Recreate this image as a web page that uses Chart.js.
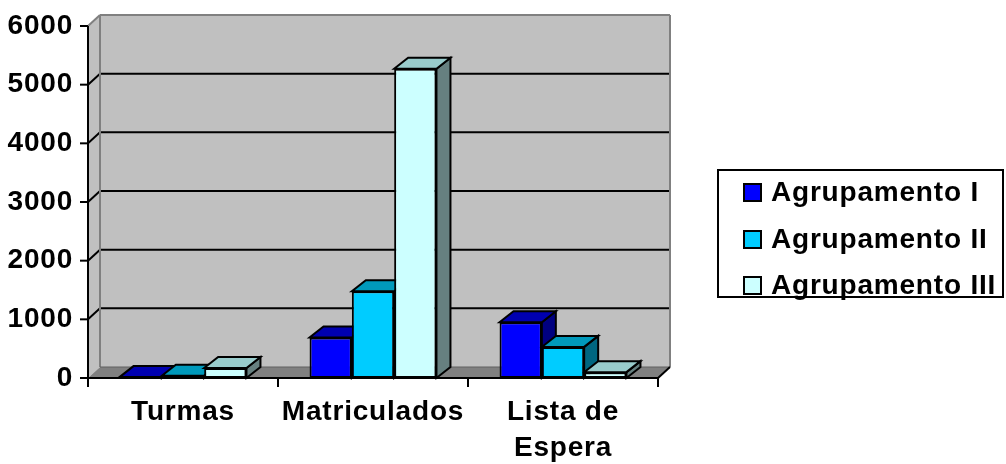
<!DOCTYPE html>
<html>
<head>
<meta charset="utf-8">
<script src="https://cdn.jsdelivr.net/npm/chart.js@4.4.0/dist/chart.umd.min.js"></script>
<style>
html,body{margin:0;padding:0;background:#fff;}
#wrap{position:relative;width:1006px;height:464px;}
</style>
</head>
<body>
<div id="wrap"><canvas id="c"></canvas></div>
<script>
const categories = ['Turmas', 'Matriculados', ['Lista de', 'Espera']];
const seriesNames = ['Agrupamento I', 'Agrupamento II', 'Agrupamento III'];
const agrupamentoI = [15, 690, 950];
const agrupamentoII = [40, 1480, 530];
const agrupamentoIII = [170, 5270, 100];
const yTicks = [0, 1000, 2000, 3000, 4000, 5000, 6000];

const frontColors = ['#0000FF', '#00CCFF', '#CCFFFF'];
const topColors = ['#0000B0', '#0099BB', '#99CCCC'];
const sideColors = ['#000080', '#006680', '#668080'];

const FONT = {family: "'Liberation Sans', Arial, sans-serif", size: 28, weight: 'bold', lineHeight: 1.3};
const SPACING = '0.8px';
const WALL = {dx: 12, dy: 11};
const BAR = {dx: 14, dy: 11};

function poly(ctx, pts, fill, stroke, lw) {
  ctx.beginPath();
  ctx.moveTo(pts[0][0], pts[0][1]);
  for (let i = 1; i < pts.length; i++) ctx.lineTo(pts[i][0], pts[i][1]);
  ctx.closePath();
  if (fill) { ctx.fillStyle = fill; ctx.fill(); }
  if (stroke) { ctx.strokeStyle = stroke; ctx.lineWidth = lw || 2; ctx.stroke(); }
}
function line(ctx, x1, y1, x2, y2, color, lw) {
  ctx.beginPath();
  ctx.moveTo(x1, y1); ctx.lineTo(x2, y2);
  ctx.strokeStyle = color; ctx.lineWidth = lw || 2; ctx.stroke();
}

const threeD = {
  id: 'threeD',
  beforeUpdate(chart) { chart.ctx.letterSpacing = SPACING; },
  beforeDraw(chart) { chart.ctx.letterSpacing = SPACING; },
  beforeDatasetsDraw(chart) {
    const ctx = chart.ctx;
    const {left, right, top, bottom} = chart.chartArea;
    const y = chart.scales.y, x = chart.scales.x;
    const wdx = WALL.dx, wdy = WALL.dy;
    ctx.save();
    ctx.lineJoin = 'miter';
    // back wall
    poly(ctx, [[left + wdx, top - wdy], [right + wdx, top - wdy], [right + wdx, bottom - wdy], [left + wdx, bottom - wdy]], '#C0C0C0');
    // left wall
    poly(ctx, [[left, top], [left + wdx, top - wdy], [left + wdx, bottom - wdy], [left, bottom]], '#C0C0C0');
    // floor
    poly(ctx, [[left, bottom], [right, bottom], [right + wdx, bottom - wdy], [left + wdx, bottom - wdy]], '#808080');
    // gridlines
    yTicks.forEach(v => {
      if (v === 0 || v === yTicks[yTicks.length - 1]) return;
      const py = y.getPixelForValue(v);
      line(ctx, left, py, left + wdx, py - wdy, '#000', 2);
      line(ctx, left + wdx, py - wdy, right + wdx, py - wdy, '#000', 2);
    });
    // wall edges (gray)
    ctx.lineCap = 'butt';
    line(ctx, left, top, left + wdx, top - wdy, '#808080', 2);
    line(ctx, left + wdx, top - wdy, right + wdx, top - wdy, '#808080', 2);
    line(ctx, right + wdx, top - wdy, right + wdx, bottom - wdy, '#808080', 2);
    line(ctx, left + wdx, top - wdy, left + wdx, bottom - wdy, '#808080', 2);
    line(ctx, left + wdx, bottom - wdy, right + wdx, bottom - wdy, '#606060', 1);
    // axes (black)
    line(ctx, left, top, left, bottom + 1, '#000', 2);
    line(ctx, left - 1, bottom, right, bottom, '#000', 2);
    line(ctx, right, bottom, right + wdx, bottom - wdy, '#000', 2);
    // y tick marks
    yTicks.forEach(v => {
      const py = y.getPixelForValue(v);
      line(ctx, left - 8, py, left, py, '#000', 2);
    });
    // x tick marks at category boundaries
    const n = categories.length;
    for (let i = 0; i <= n; i++) {
      let px;
      if (i === 0) px = left; else if (i === n) px = right;
      else px = (x.getPixelForValue(i - 1) + x.getPixelForValue(i)) / 2;
      line(ctx, px, bottom, px, bottom + 9, '#000', 2);
    }
    // bar depth faces
    const bdx = BAR.dx, bdy = BAR.dy;
    chart.data.datasets.forEach((ds, di) => {
      const meta = chart.getDatasetMeta(di);
      meta.data.forEach(bar => {
        const w = bar.width;
        const l = bar.x - w / 2, r = bar.x + w / 2, t = bar.y, b = bar.base;
        poly(ctx, [[r, t], [r + bdx, t - bdy], [r + bdx, b - bdy], [r, b]], sideColors[di], '#000', 2);
        poly(ctx, [[l, t], [r, t], [r + bdx, t - bdy], [l + bdx, t - bdy]], topColors[di], '#000', 2);
      });
    });
    ctx.restore();
  },
  afterDraw(chart) {
    const ctx = chart.ctx;
    ctx.save();
    ctx.letterSpacing = SPACING;
    // legend box
    const bx = 718, by = 170, bw = 285, bh = 127;
    ctx.fillStyle = '#fff';
    ctx.fillRect(bx, by, bw, bh);
    ctx.strokeStyle = '#000'; ctx.lineWidth = 2;
    ctx.strokeRect(bx, by, bw, bh);
    ctx.font = `bold ${FONT.size}px ${FONT.family}`;
    ctx.textBaseline = 'middle';
    ctx.textAlign = 'left';
    const rows = [192, 239, 285];
    chart.data.datasets.forEach((ds, i) => {
      const cy = rows[i];
      ctx.fillStyle = ds.backgroundColor;
      ctx.fillRect(744, cy - 8, 17, 17);
      ctx.strokeStyle = '#000'; ctx.lineWidth = 2;
      ctx.strokeRect(744, cy - 8, 17, 17);
      ctx.fillStyle = '#000';
      ctx.fillText(ds.label, 771, cy + 1);
    });
    ctx.restore();
  }
};

const seriesData = [agrupamentoI, agrupamentoII, agrupamentoIII];

new Chart(document.getElementById('c'), {
  type: 'bar',
  data: {
    labels: categories,
    datasets: seriesNames.map((name, i) => ({
      label: name,
      data: seriesData[i],
      backgroundColor: frontColors[i],
      borderColor: '#000',
      borderWidth: 2,
      borderSkipped: false,
      categoryPercentage: 0.668,
      barPercentage: 1.0
    }))
  },
  options: {
    responsive: true,
    maintainAspectRatio: false,
    animation: false,
    devicePixelRatio: 1,
    layout: {padding: {left: 0, right: 348, top: 26, bottom: 0}},
    plugins: {legend: {display: false}, tooltip: {enabled: false}},
    scales: {
      x: {
        grid: {display: false, drawTicks: false},
        border: {display: false},
        ticks: {color: '#000', font: FONT, padding: 16, maxRotation: 0, autoSkip: false},
        afterFit(scale) { scale.height = 86; scale.paddingLeft = 0; scale.paddingRight = 0; }
      },
      y: {
        min: 0, max: 6000,
        grid: {display: false, drawTicks: false},
        border: {display: false},
        afterBuildTicks(scale) { scale.ticks = yTicks.map(v => ({value: v})); },
        ticks: {color: '#000', font: FONT, padding: 15, callback: v => String(v)},
        afterFit(scale) { scale.width = 88; scale.paddingTop = 0; scale.paddingBottom = 0; }
      }
    }
  },
  plugins: [threeD]
});
</script>
</body>
</html>
